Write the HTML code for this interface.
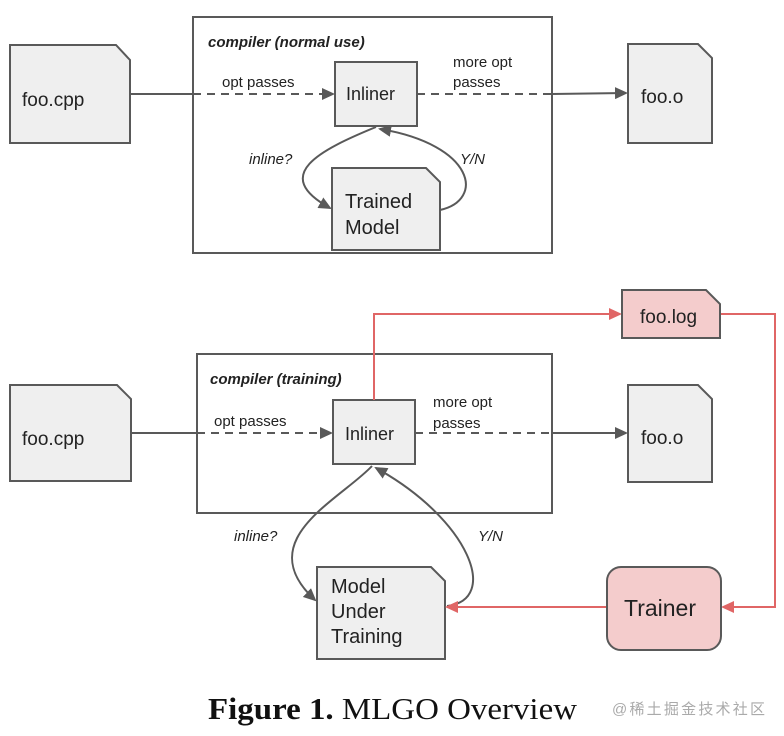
<!DOCTYPE html>
<html><head><meta charset="utf-8"><style>
html,body{margin:0;padding:0;background:#fff;width:784px;height:736px;overflow:hidden}
</style></head><body>
<svg width="784" height="736" viewBox="0 0 784 736" xmlns="http://www.w3.org/2000/svg" font-family="Liberation Sans, sans-serif">
<defs>
<marker id="ag" markerWidth="13" markerHeight="12" refX="11" refY="6" orient="auto" markerUnits="userSpaceOnUse"><path d="M0,0 L13,6 L0,12 z" fill="#595959"/></marker>
<marker id="ar" markerWidth="13" markerHeight="12" refX="11" refY="6" orient="auto" markerUnits="userSpaceOnUse"><path d="M0,0 L13,6 L0,12 z" fill="#e06666"/></marker>
</defs>
<g stroke="#595959" stroke-width="2" fill="#efefef">
<rect x="193" y="17" width="359" height="236" fill="#fff"/>
<path d="M10,45 H116 L130,60 V143 H10 Z"/>
<rect x="335" y="62" width="82" height="64"/>
<path d="M332,168 H426 L440,182 V250 H332 Z"/>
<path d="M628,44 H698 L712,58 V143 H628 Z"/>
<rect x="197" y="354" width="355" height="159" fill="#fff"/>
<path d="M10,385 H117 L131,399 V481 H10 Z"/>
<rect x="333" y="400" width="82" height="64"/>
<path d="M317,567 H431 L445,581 V659 H317 Z"/>
<path d="M628,385 H698 L712,399 V482 H628 Z"/>
</g>
<g stroke="#595959" stroke-width="2" fill="none">
<line x1="130" y1="94" x2="193" y2="94"/>
<line x1="193" y1="94" x2="333" y2="94" stroke-dasharray="8,6" marker-end="url(#ag)"/>
<line x1="417" y1="94" x2="552" y2="94" stroke-dasharray="8,6"/>
<line x1="552" y1="94" x2="626" y2="93" marker-end="url(#ag)"/>
<path d="M376,127 C320,150 270,175 330,208" marker-end="url(#ag)"/>
<path d="M440,210 C485,200 475,145 380,129" marker-end="url(#ag)"/>
<line x1="131" y1="433" x2="197" y2="433"/>
<line x1="197" y1="433" x2="331" y2="433" stroke-dasharray="8,6" marker-end="url(#ag)"/>
<line x1="415" y1="433" x2="552" y2="433" stroke-dasharray="8,6"/>
<line x1="552" y1="433" x2="626" y2="433" marker-end="url(#ag)"/>
<path d="M372,466 C340,500 250,540 315,600" marker-end="url(#ag)"/>
<path d="M447,606 C500,600 470,520 376,468" marker-end="url(#ag)"/>
</g>
<g stroke="#e06666" stroke-width="2" fill="none">
<polyline points="374,400 374,314 620,314" marker-end="url(#ar)"/>
<polyline points="720,314 775,314 775,607 723,607" marker-end="url(#ar)"/>
<line x1="607" y1="607" x2="447" y2="607" marker-end="url(#ar)"/>
</g>
<path d="M622,290 H706 L720,304 V338 H622 Z" fill="#f4cccc" stroke="#595959" stroke-width="2"/>
<rect x="607" y="567" width="114" height="83" rx="14" fill="#f4cccc" stroke="#595959" stroke-width="2"/>
<g fill="#222" font-size="19">
<text x="22" y="106">foo.cpp</text>
<text x="346" y="100" font-size="18">Inliner</text>
<text x="345" y="208" font-size="20">Trained</text>
<text x="345" y="234" font-size="20">Model</text>
<text x="641" y="103">foo.o</text>
<text x="22" y="445">foo.cpp</text>
<text x="345" y="440" font-size="18">Inliner</text>
<text x="641" y="444">foo.o</text>
<text x="331" y="593" font-size="20">Model</text>
<text x="331" y="618" font-size="20">Under</text>
<text x="331" y="643" font-size="20">Training</text>
<text x="640" y="323">foo.log</text>
<text x="624" y="616" font-size="23">Trainer</text>
</g>
<g fill="#222" font-size="15">
<text x="208" y="47" font-weight="bold" font-style="italic">compiler (normal use)</text>
<text x="222" y="87">opt passes</text>
<text x="453" y="67">more opt</text>
<text x="453" y="87">passes</text>
<text x="249" y="164" font-style="italic">inline?</text>
<text x="460" y="164" font-style="italic">Y/N</text>
<text x="210" y="384" font-weight="bold" font-style="italic">compiler (training)</text>
<text x="214" y="426">opt passes</text>
<text x="433" y="407">more opt</text>
<text x="433" y="428">passes</text>
<text x="234" y="541" font-style="italic">inline?</text>
<text x="478" y="541" font-style="italic">Y/N</text>
</g>
<text x="208" y="719" font-family="Liberation Serif, serif" font-size="31" fill="#111" textLength="369" lengthAdjust="spacingAndGlyphs"><tspan font-weight="bold">Figure 1.</tspan> MLGO Overview</text>
<text x="612" y="714" font-family="Liberation Sans, 'Noto Sans CJK SC', sans-serif" font-size="15" fill="#aaa" textLength="153">@稀土掘金技术社区</text>
</svg>
</body></html>
